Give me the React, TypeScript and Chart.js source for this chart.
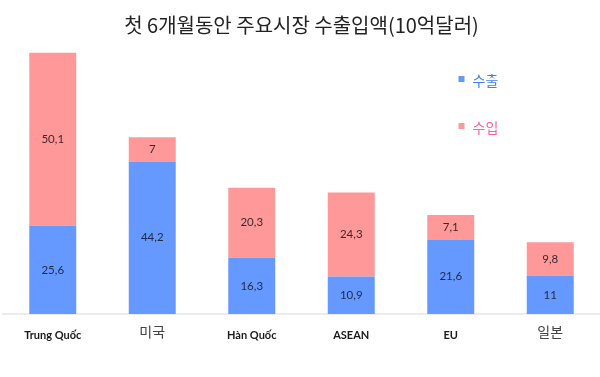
import React, { useEffect, useRef } from "react";
import { Chart, registerables } from "chart.js";

Chart.register(...registerables);

const categories = ["Trung Quốc", "미국", "Hàn Quốc", "ASEAN", "EU", "일본"];
const exportValues = [25.6, 44.2, 16.3, 10.9, 21.6, 11];
const importValues = [50.1, 7, 20.3, 24.3, 7.1, 9.8];
const seriesLabels = ["수출", "수입"];
const titleText = "첫 6개월동안 주요시장 수출입액(10억달러)";

const BLUE = "#6699ff";
const PINK = "#ff9999";
const legendTextColors = ["#3f80ee", "#ff5f9e"];

const fmt = (v: number) => String(v).replace(".", ",");

const valueLabelPlugin = {
  id: "valueLabels",
  afterDatasetsDraw(chart: any) {
    const ctx = chart.ctx;
    ctx.save();
    ctx.font = "11.5px Lato";
    ctx.textAlign = "center";
    ctx.textBaseline = "middle";
    chart.data.datasets.forEach((ds: any, di: number) => {
      const meta = chart.getDatasetMeta(di);
      meta.data.forEach((el: any, i: number) => {
        const v = ds.data[i];
        const cy = (el.y + el.base) / 2;
        ctx.fillStyle = di === 0 ? "#1e2a44" : "#3a2a2a";
        ctx.fillText(fmt(v), el.x, cy);
      });
    });
    ctx.restore();
  },
};

const customLegendPlugin = {
  id: "customLegend",
  afterDraw(chart: any) {
    const ctx = chart.ctx;
    const area = chart.chartArea;
    ctx.save();
    chart.data.datasets.forEach((ds: any, di: number) => {
      const x = area.left + (area.right - area.left) * 0.768;
      const y = area.top + 41 + di * 47;
      ctx.fillStyle = ds.backgroundColor;
      ctx.fillRect(x - 3, y - 3, 6, 6);
      ctx.fillStyle = legendTextColors[di];
      ctx.font = "14px 'Noto Sans CJK KR'";
      ctx.textAlign = "left";
      ctx.textBaseline = "middle";
      ctx.fillText(ds.label, x + 11, y + 2);
    });
    ctx.restore();
  },
};

export default function App() {
  const ref = useRef<HTMLCanvasElement | null>(null);
  useEffect(() => {
    if (!ref.current) return;
    const chart = new Chart(ref.current, {
      type: "bar",
      data: {
        labels: categories,
        datasets: [
          { label: seriesLabels[0], data: exportValues, backgroundColor: BLUE, borderWidth: 0 },
          { label: seriesLabels[1], data: importValues, backgroundColor: PINK, borderWidth: 0 },
        ],
      },
      options: {
        animation: false,
        responsive: false,
        maintainAspectRatio: false,
        layout: { padding: { left: 3, right: 0, top: 1, bottom: 20 } },
        datasets: { bar: { barPercentage: 0.472, categoryPercentage: 1 } },
        plugins: {
          legend: { display: false },
          tooltip: { enabled: false },
          title: {
            display: true,
            text: titleText,
            color: "#222222",
            font: { family: "'Noto Sans CJK KR'", size: 20, weight: "normal" },
            padding: { top: 12, bottom: 1 },
          },
        },
        scales: {
          x: {
            stacked: true,
            grid: { display: false, drawTicks: false },
            border: { display: true, color: "#ececec", width: 2 },
            ticks: {
              padding: 10.5,
              color: (c: any) => (/[가-힣]/.test(categories[c.index]) ? "#444444" : "#1a1a1a"),
              font: (c: any) =>
                /[가-힣]/.test(categories[c.index])
                  ? { family: "'Noto Sans CJK KR'", size: 14, weight: "normal", lineHeight: 1.0 }
                  : { family: "Lato", size: 11, weight: "bold", lineHeight: 2.0 },
            },
          },
          y: { stacked: true, display: false, min: 0, max: 80 },
        },
      },
      plugins: [valueLabelPlugin, customLegendPlugin],
    });
    return () => chart.destroy();
  }, []);
  return (
    <div style={{ position: "fixed", left: 0, top: 0, width: 600, height: 377, background: "#fff" }}>
      <canvas ref={ref} width={600} height={377} style={{ display: "block" }} />
    </div>
  );
}
